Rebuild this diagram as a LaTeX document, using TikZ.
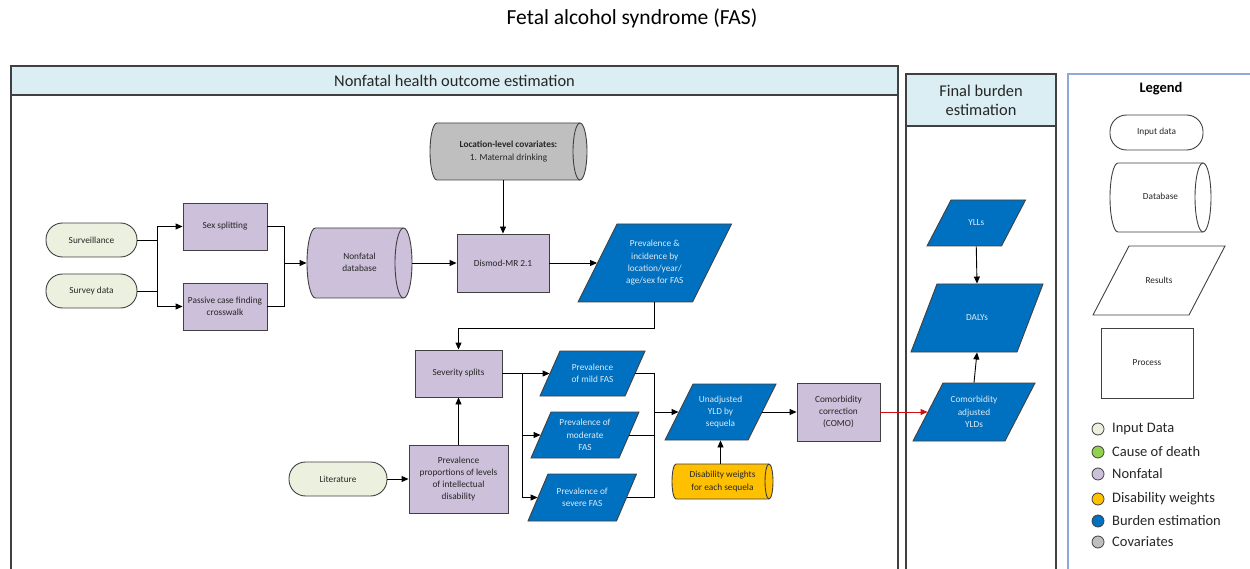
\documentclass[tikz,border=0pt]{standalone}
\usepackage{fontspec}
\setmainfont{Carlito}
\usetikzlibrary{arrows.meta,calc}
\definecolor{nfill}{HTML}{CCC0DA}
\definecolor{infill}{HTML}{EBF1DE}
\definecolor{bfill}{HTML}{0070C0}
\definecolor{gfill}{HTML}{BFBFBF}
\definecolor{yfill}{HTML}{FFC000}
\definecolor{codfill}{HTML}{92D050}
\definecolor{hdr}{HTML}{DAEEF3}
\definecolor{bord}{HTML}{404040}
\definecolor{lgb}{HTML}{8EA9DB}
\definecolor{btxt}{HTML}{DDEBF7}
\definecolor{dtxt}{HTML}{262626}
\definecolor{redarr}{HTML}{D01010}
\newcommand\nodefont{\fontsize{9.3}{12.3}\selectfont}
\newcommand\mypara[8]{%
  \pgfmathsetmacro\pxa{#2-#4/2+#6}\pgfmathsetmacro\pxb{#2+#4/2+#6}%
  \pgfmathsetmacro\pxc{#2+#4/2-#6}\pgfmathsetmacro\pxd{#2-#4/2-#6}%
  \pgfmathsetmacro\pyt{#3-#5/2}\pgfmathsetmacro\pyb{#3+#5/2}%
  \draw[#7] (\pxa,\pyt) -- (\pxb,\pyt) -- (\pxc,\pyb) -- (\pxd,\pyb) -- cycle;
  \node[#7, draw=none, fill=none, minimum width=#4pt, minimum height=#5pt, inner sep=0pt] (#1) at (#2,#3) {#8};}
\newcommand\mycyl[8]{%
  \pgfmathsetmacro\cM{(#4+#5)/2}\pgfmathsetmacro\cry{(#5-#4)/2}%
  \pgfmathsetmacro\cA{#2+#6}\pgfmathsetmacro\cB{#3-#6}\pgfmathsetmacro\cC{#3-2*#6}%
  \pgfmathsetmacro\kx{0.5523*#6}\pgfmathsetmacro\ky{0.5523*\cry}%
  \pgfmathsetmacro\cw{#3-#2}\pgfmathsetmacro\ch{#5-#4}\pgfmathsetmacro\cx{(#2+#3)/2}%
  \draw[#7] (\cA,#4) -- (\cB,#4) .. controls ({\cB+\kx},#4) and (#3,{\cM-\ky}) .. (#3,\cM)
     .. controls (#3,{\cM+\ky}) and ({\cB+\kx},#5) .. (\cB,#5) -- (\cA,#5)
     .. controls ({\cA-\kx},#5) and (#2,{\cM+\ky}) .. (#2,\cM)
     .. controls (#2,{\cM-\ky}) and ({\cA-\kx},#4) .. cycle;
  \draw[#7, fill=none] (\cB,#4) .. controls ({\cB-\kx},#4) and (\cC,{\cM-\ky}) .. (\cC,\cM)
     .. controls (\cC,{\cM+\ky}) and ({\cB-\kx},#5) .. (\cB,#5);
  \node[#7, draw=none, fill=none, minimum width=\cw pt, minimum height=\ch pt, inner sep=0pt] (#1) at (\cx,\cM)
     {\begin{tabular}{@{}c@{}}#8\end{tabular}\hspace{#6pt}};}
\tikzset{
  ln/.style={draw=black, line width=0.9pt},
  arr/.style={draw=black, line width=0.9pt, -{Triangle[length=7pt,width=6pt]}},
  panel/.style={draw=bord, line width=1.1pt},
  proc/.style={draw=bord, line width=0.9pt, fill=nfill, text=dtxt, font=\nodefont, align=center, inner sep=0pt},
  inp/.style={draw=bord, line width=0.9pt, fill=infill, text=dtxt, font=\nodefont, align=center, inner sep=0pt, rounded corners=16.5pt},
  res/.style={draw=bord, line width=0.9pt, fill=bfill, text=btxt, font=\nodefont, align=center},
  dbnf/.style={draw=bord, line width=0.9pt, fill=nfill, text=dtxt, font=\nodefont},
  dbcov/.style={draw=bord, line width=0.9pt, fill=gfill, text=dtxt, font=\nodefont},
  dbdw/.style={draw=bord, line width=0.9pt, fill=yfill, text=dtxt, font=\nodefont},
  dblg/.style={draw=bord, line width=0.9pt, fill=white, text=dtxt, font=\nodefont},
  lgres/.style={draw=bord, line width=0.9pt, fill=white, text=dtxt, font=\nodefont, align=center},
  hdrtxt/.style={font=\fontsize{16.4}{19}\selectfont, text=dtxt, align=center, inner sep=0pt},
  dot/.style={circle, draw=bord, line width=0.8pt, minimum size=12pt, inner sep=0pt},
  lgtxt/.style={anchor=west, font=\fontsize{14.5}{17}\selectfont, text=dtxt, inner sep=0pt}
}
\begin{document}
\begin{tikzpicture}[x=1pt,y=-1pt]
\useasboundingbox (0,0) rectangle (1250,569);
% title
\node[font=\fontsize{21.5}{24}\selectfont, text=black, inner sep=0pt] (title) at (632,18) {Fetal alcohol syndrome (FAS)};
% panels
\fill[hdr] (11,66) rectangle (898,95);
\draw[panel] (11,569) -- (11,66) -- (898,66) -- (898,569);
\draw[panel] (11,95) -- (898,95);
\node[hdrtxt] (nfh) at (454.5,80.5) {Nonfatal health outcome estimation};
\fill[hdr] (906,74) rectangle (1056,126);
\draw[panel] (906,569) -- (906,74) -- (1056,74) -- (1056,569);
\draw[panel] (906,126) -- (1056,126);
\node[hdrtxt] (fbh) at (981,100.5) {Final burden\\estimation};
\draw[draw=lgb, line width=1.1pt] (1068,569) -- (1068,74) -- (1251,74);
\node[font=\fontsize{14.5}{17}\selectfont\bfseries, text=black, inner sep=0pt] (lgh) at (1161,89) {Legend};
% nonfatal nodes
\node[inp, minimum width=91pt, minimum height=34pt] (surv) at (91.5,240) {Surveillance};
\node[inp, minimum width=91pt, minimum height=34pt] (survey) at (91.5,291) {Survey data};
\node[proc, minimum width=84pt, minimum height=47pt] (sex) at (225,226.5) {Sex splitting};
\node[proc, minimum width=84pt, minimum height=47pt] (pcf) at (225,306.5) {Passive case finding\\crosswalk};
\mycyl{db}{307}{412}{228}{298}{8.5}{dbnf}{Nonfatal\\database}
\mycyl{cov}{430}{587}{123}{180}{7}{dbcov}{\textbf{Location-level covariates:}\\1. Maternal drinking}
\node[proc, minimum width=92pt, minimum height=58pt] (dismod) at (503,263) {Dismod-MR 2.1};
\mypara{prev}{654.75}{263}{114.5}{78}{19.5}{res}{Prevalence \&\\incidence by\\location/year/\\age/sex for FAS}
\node[proc, minimum width=87pt, minimum height=47pt] (sev) at (458.5,373.5) {Severity splits};
\node[proc, minimum width=99pt, minimum height=68pt] (prop) at (458.5,479) {Prevalence\\proportions of levels\\of intellectual\\disability};
\node[inp, minimum width=98pt, minimum height=34pt] (lit) at (338,479) {Literature};
\mypara{mild}{592.5}{373.5}{85}{45}{10}{res}{Prevalence\\of mild FAS}
\mypara{mod}{585}{435}{88}{46}{10}{res}{Prevalence of\\moderate\\FAS}
\mypara{sevr}{582.25}{497.5}{88.5}{47}{10}{res}{Prevalence of\\severe FAS}
\mypara{unadj}{720.5}{412}{83}{56}{14}{res}{Unadjusted\\YLD by\\sequela}
\mycyl{dw}{672}{773}{464}{499}{4}{dbdw}{Disability weights\\for each sequela}
\node[proc, minimum width=83pt, minimum height=58pt] (como) at (838.5,412) {Comorbidity\\correction\\(COMO)};
% final burden nodes
\mypara{yll}{976.25}{223}{74.5}{46}{12}{res}{YLLs}
\mypara{daly}{977}{318}{106}{68}{13}{res}{DALYs}
\mypara{yld}{974}{412}{92}{58}{15}{res}{Comorbidity\\adjusted\\YLDs}
% legend
\node[inp, fill=white, minimum width=93pt, minimum height=35pt] (lgin) at (1156.5,132.5) {Input data};
\mycyl{lgdb}{1110}{1211}{163}{232}{8}{dblg}{Database}
\mypara{lgr}{1159}{280.5}{96}{69}{18}{lgres}{Results}
\node[proc, fill=white, minimum width=92pt, minimum height=70pt] (lgproc) at (1147,363) {Process};
\node[dot, fill=infill] (d1) at (1098,429) {};
\node[lgtxt] (t1) at (1112,429) {Input Data};
\node[dot, fill=codfill] (d2) at (1098,452) {};
\node[lgtxt] (t2) at (1112,452) {Cause of death};
\node[dot, fill=nfill] (d3) at (1098,474) {};
\node[lgtxt] (t3) at (1112,474) {Nonfatal};
\node[dot, fill=yfill] (d4) at (1098,499) {};
\node[lgtxt] (t4) at (1112,499) {Disability weights};
\node[dot, fill=bfill] (d5) at (1098,521) {};
\node[lgtxt] (t5) at (1112,521) {Burden estimation};
\node[dot, fill=gfill] (d6) at (1098,542) {};
\node[lgtxt] (t6) at (1112,542) {Covariates};
% connectors
\coordinate (b1) at (157,0);
\coordinate (b2) at (284,0);
\coordinate (b3) at (522,0);
\coordinate (b4) at (654,0);
\coordinate (c1) at (0,328);
\draw[ln] (surv.east) -- (surv.east -| b1);
\draw[ln] (survey.east) -- (survey.east -| b1);
\draw[ln] (sex.west -| b1) -- (pcf.west -| b1);
\draw[arr] (sex.west -| b1) -- (sex.west);
\draw[arr] (pcf.west -| b1) -- (pcf.west);
\draw[ln] (sex.east) -| (pcf.east -| b2) -- (pcf.east);
\draw[arr] (db.west -| b2) -- (db.west);
\draw[arr] (db.east) -- (dismod.west);
\draw[arr] (cov.south -| dismod.north) -- (dismod.north);
\draw[arr] (dismod.east) -- (prev.west);
\draw[arr] (prev.south) -- (prev.south |- c1) -| (sev.north);
\draw[arr] (prop.north) -- (sev.south);
\draw[arr] (lit.east) -- (prop.west);
\draw[arr] (sev.east) -- (mild.west);
\draw[ln] (sev.east -| b3) -- (sevr.west -| b3);
\draw[arr] (mod.west -| b3) -- (mod.west);
\draw[arr] (sevr.west -| b3) -- (sevr.west);
\draw[ln] (mild.east) -| (sevr.east -| b4) -- (sevr.east);
\draw[ln] (mod.east) -- (mod.east -| b4);
\draw[arr] (unadj.west -| b4) -- (unadj.west);
\draw[arr] (dw.north -| unadj.south) -- (unadj.south);
\draw[arr] (unadj.east) -- (como.west);
\draw[arr, draw=redarr] (como.east) -- (yld.west);
\draw[arr] (yll.south) -- (daly.north);
\draw[arr] (yld.north) -- (daly.south);
\end{tikzpicture}
\end{document}
